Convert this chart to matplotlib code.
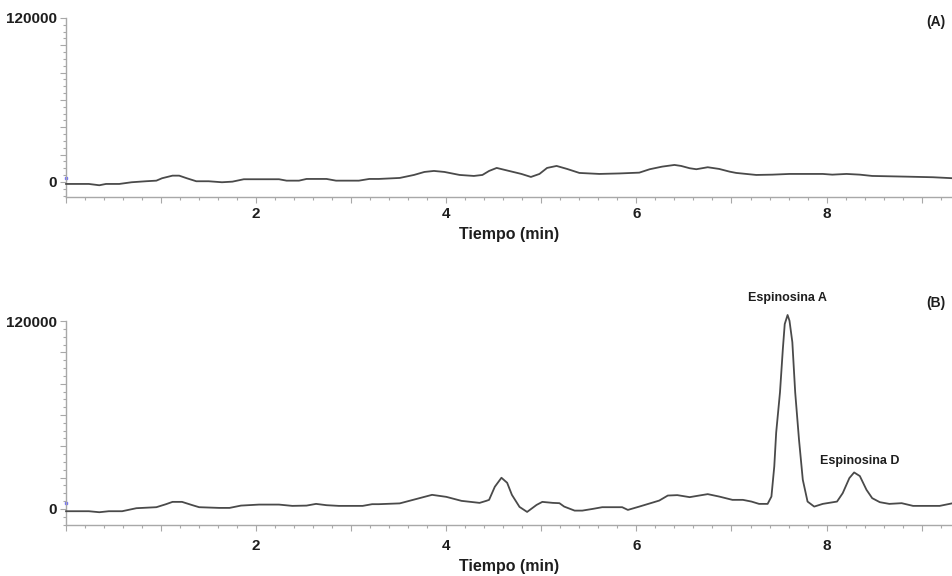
import matplotlib
matplotlib.use("Agg")
import matplotlib.pyplot as plt
from matplotlib.ticker import MultipleLocator, FuncFormatter

plt.rcParams['font.family'] = ['Liberation Sans', 'DejaVu Sans']

# chromatogram (A)
time_a = [0.00, 0.24, 0.35, 0.42, 0.56, 0.69, 0.84, 0.95, 1.01, 1.12, 1.19, 1.27,
          1.37, 1.50, 1.64, 1.75, 1.87, 2.24, 2.32, 2.45, 2.53, 2.74, 2.84, 3.08,
          3.19, 3.29, 3.51, 3.66, 3.77, 3.87, 3.98, 4.14, 4.29, 4.38, 4.45, 4.53,
          4.66, 4.79, 4.89, 4.98, 5.06, 5.16, 5.27, 5.40, 5.61, 5.82, 6.03, 6.14,
          6.27, 6.40, 6.47, 6.56, 6.63, 6.75, 6.87, 6.98, 7.05, 7.26, 7.43, 7.61,
          7.96, 8.06, 8.21, 8.35, 8.48, 8.84, 9.12, 9.33]
signal_a = [-1460, -1460, -2420, -1460, -1460, -220, 510, 950, 2710, 4610, 4610, 2710,
            510, 510, -220, 220, 1980, 1980, 950, 950, 2200, 2200, 950, 950,
            2200, 2200, 2930, 5120, 7320, 8050, 7320, 5120, 4390, 5120, 8050, 10250,
            8050, 5860, 3660, 5860, 10250, 11710, 9520, 6590, 5860, 6220, 6810, 9300,
            11200, 12440, 11710, 10030, 9300, 10760, 9520, 7540, 6590, 5120, 5340, 5860,
            5860, 5340, 5860, 5340, 4390, 3880, 3440, 2710]

# chromatogram (B)
time_b = [0.00, 0.24, 0.35, 0.45, 0.59, 0.74, 0.95, 1.05, 1.12, 1.22, 1.33, 1.40,
          1.61, 1.72, 1.84, 2.03, 2.24, 2.38, 2.53, 2.63, 2.74, 2.87, 3.12, 3.22,
          3.29, 3.51, 3.69, 3.85, 4.00, 4.16, 4.35, 4.42, 4.45, 4.51, 4.58, 4.64,
          4.69, 4.77, 4.85, 4.95, 5.01, 5.12, 5.19, 5.24, 5.35, 5.43, 5.54, 5.64,
          5.85, 5.91, 6.03, 6.17, 6.24, 6.33, 6.43, 6.56, 6.66, 6.75, 6.87, 7.01,
          7.12, 7.21, 7.29, 7.38, 7.42, 7.45, 7.47, 7.51, 7.54, 7.56, 7.59, 7.61,
          7.64, 7.67, 7.71, 7.75, 7.80, 7.87, 7.96, 8.11, 8.17, 8.24, 8.29, 8.35,
          8.42, 8.48, 8.56, 8.66, 8.79, 8.91, 9.19, 9.33]
signal_b = [-1480, -1480, -2120, -1480, -1480, 450, 1090, 2980, 4490, 4490, 2370, 1090,
            640, 640, 2120, 2760, 2760, 1930, 2120, 3210, 2370, 1930, 1930, 3020,
            3020, 3530, 6420, 8990, 7700, 5140, 3850, 5140, 5780, 14120, 19900, 16690,
            8990, 1280, -1930, 2570, 4490, 3850, 3660, 1480, -1090, -1090, 0, 1090,
            1090, -640, 1480, 4040, 5330, 8540, 8800, 7510, 8540, 9440, 7900, 5780,
            5780, 4690, 3210, 3210, 7900, 27160, 48790, 74470, 102080, 118130, 123910, 120250,
            106570, 74470, 44300, 18620, 4690, 1480, 3210, 4690, 10080, 19710, 23300, 20990,
            12200, 6870, 4300, 3210, 3660, 1930, 1930, 3660]

peak_names = ["Espinosina A", "Espinosina D"]
peak_times = [7.59, 8.35]
peak_heights = [123910, 23300]

panels = [
    dict(t=time_a, s=signal_a, rect=[0.0693, 0.658, 0.9307, 0.311], ylo=-11000,
         tag="(A)", tag_y=0.977, base=2900, xpad=3.5, lpad=4),
    dict(t=time_b, s=signal_b, rect=[0.0693, 0.0885, 0.9307, 0.354], ylo=-10300,
         tag="(B)", tag_y=1.088, base=3850, xpad=6, lpad=4.5),
]

fig = plt.figure(figsize=(9.53, 5.76), dpi=100)
spine_gray = "#a8a8a8"
text_col = "#1e1e1e"

xfmt = FuncFormatter(lambda v, pos: f"{v:.0f}" if round(v) in (2, 4, 6, 8) else "")
yfmt = FuncFormatter(lambda v, pos: f"{v:.0f}" if round(v) in (0, 120000) else "")

axes = []
for p in panels:
    ax = fig.add_axes(p["rect"])
    ax.plot(p["t"], p["s"], color="#4a4a4a", lw=1.3, clip_on=False, zorder=3)
    ax.plot([0.0], [p["base"]], marker="s", ms=1.8, color="#7070ff", ls="none", clip_on=False)
    ax.set_xlim(0, 9.33)
    ax.set_ylim(p["ylo"], 120000)
    for side in ("top", "right"):
        ax.spines[side].set_visible(False)
    for side in ("left", "bottom"):
        ax.spines[side].set_color(spine_gray)
        ax.spines[side].set_linewidth(1.0)

    ax.xaxis.set_major_locator(MultipleLocator(1))
    ax.xaxis.set_minor_locator(MultipleLocator(0.2))
    ax.xaxis.set_major_formatter(xfmt)
    ax.yaxis.set_major_locator(MultipleLocator(20000))
    ax.yaxis.set_minor_locator(MultipleLocator(5000))
    ax.yaxis.set_major_formatter(yfmt)
    ax.tick_params(axis="both", which="major", length=4, width=0.8, color=spine_gray,
                   labelsize=11, labelcolor=text_col)
    ax.tick_params(axis="x", which="major", pad=p["xpad"])
    ax.tick_params(axis="y", which="major", pad=2.5)
    ax.tick_params(axis="both", which="minor", length=2.5, width=0.8, color=spine_gray)
    for lab in ax.get_xticklabels() + ax.get_yticklabels():
        lab.set_fontweight("bold")

    ax.set_xlabel("Tiempo (min)", fontsize=11.5, fontweight="bold", color=text_col,
                  labelpad=p["lpad"])
    ax.text(0.981, p["tag_y"], p["tag"], transform=ax.transAxes, ha="center",
            va="center", fontsize=10, fontweight="bold", color=text_col, clip_on=False)
    axes.append(ax)

ax_b = axes[1]
for name, t, h, off in zip(peak_names, peak_times, peak_heights, (8, 4)):
    ax_b.annotate(name, xy=(t, h), xytext=(0, off), textcoords="offset points",
                  ha="center", va="bottom", fontsize=9, fontweight="bold",
                  color=text_col, annotation_clip=False)

fig.savefig("out.png", dpi=100, facecolor="white")
